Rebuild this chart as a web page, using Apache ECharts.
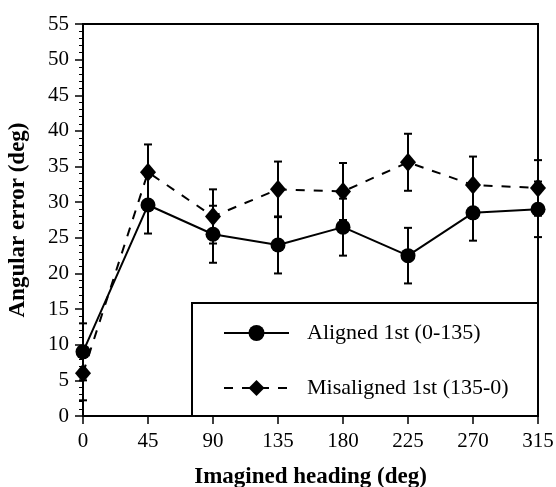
<!DOCTYPE html>
<html>
<head>
<meta charset="utf-8">
<script src="https://cdn.jsdelivr.net/npm/echarts@6/dist/echarts.min.js"></script>
<style>
  html, body { margin: 0; padding: 0; background: #fff; }
  #main { width: 556px; height: 487px; }
</style>
</head>
<body>
<div id="main"></div>
<script>
// imagined heading (deg)
const headings = [0, 45, 90, 135, 180, 225, 270, 315];

// aligned 1st (0-135): mean angular error and error bar half-width
const alignedMean = [9.0, 29.6, 25.5, 24.0, 26.5, 22.5, 28.5, 29.0];
const alignedErr  = [4.0, 4.0, 4.0, 4.0, 4.0, 3.9, 3.9, 3.9];

// misaligned 1st (135-0)
const misalignedMean = [6.0, 34.2, 28.0, 31.8, 31.5, 35.6, 32.4, 32.0];
const misalignedErr  = [3.8, 3.9, 3.8, 3.9, 4.0, 4.0, 4.0, 3.9];

const yTicks = { min: 0, max: 55, interval: 5 };

const serif = 'Liberation Serif';

const pairs = (ys) => headings.map((h, i) => [h, ys[i]]);
const bars = (m, e) => headings.map((h, i) => [h, m[i] - e[i], m[i] + e[i]]);

// error bar with caps
function errorBar(params, api) {
    const lo = api.coord([api.value(0), api.value(1)]);
    const hi = api.coord([api.value(0), api.value(2)]);
    const w = 4;
    const style = { stroke: '#000', lineWidth: 2 };
    return {
        type: 'group',
        children: [
            { type: 'line', shape: { x1: lo[0], y1: lo[1], x2: hi[0], y2: hi[1] }, style: style },
            { type: 'line', shape: { x1: lo[0] - w, y1: lo[1], x2: lo[0] + w, y2: lo[1] }, style: style },
            { type: 'line', shape: { x1: hi[0] - w, y1: hi[1], x2: hi[0] + w, y2: hi[1] }, style: style }
        ]
    };
}

const chart = echarts.init(document.getElementById('main'));
chart.setOption({
    animation: false,
    backgroundColor: '#fff',
    grid: {
        left: 83, right: 18, top: 24, bottom: 71,
        outerBoundsMode: 'none',
        containLabel: false,
        show: true, borderColor: '#000', borderWidth: 2
    },
    xAxis: {
        type: 'value',
        min: 0, max: 315, interval: 45,
        name: 'Imagined heading (deg)',
        nameLocation: 'middle',
        nameGap: 50,
        nameTextStyle: { fontFamily: serif, fontWeight: 'bold', fontSize: 23, color: '#000' },
        axisLine: { show: true, lineStyle: { color: '#000', width: 2 } },
        axisTick: { show: true, length: 8, lineStyle: { color: '#000', width: 1.5 } },
        axisLabel: { fontFamily: serif, fontSize: 21, color: '#000', margin: 15 },
        splitLine: { show: false }
    },
    yAxis: {
        type: 'value',
        min: yTicks.min, max: yTicks.max, interval: yTicks.interval,
        name: 'Angular error (deg)',
        nameLocation: 'middle',
        nameGap: 53,
        nameTextStyle: { fontFamily: serif, fontWeight: 'bold', fontSize: 23, color: '#000' },
        axisLine: { show: true, lineStyle: { color: '#000', width: 2 } },
        axisTick: { show: true, length: 8, lineStyle: { color: '#000', width: 1.5 } },
        minorTick: { show: true, splitNumber: 5, length: 4, lineStyle: { color: '#000', width: 1 } },
        axisLabel: { fontFamily: serif, fontSize: 21, color: '#000', margin: 14 },
        splitLine: { show: false }
    },
    legend: {
        orient: 'vertical',
        left: 218, top: 317,
        itemWidth: 65, itemHeight: 20,
        itemGap: 33,
        textStyle: { fontFamily: serif, fontSize: 22, color: '#000', padding: [0, 0, 0, 13] },
        data: ['Aligned 1st (0-135)', 'Misaligned 1st (135-0)']
    },
    graphic: [{
        type: 'rect',
        shape: { x: 192, y: 303, width: 346, height: 113 },
        style: { fill: '#fff', stroke: '#000', lineWidth: 2 },
        z: 0
    }],
    series: [
        {
            name: 'Aligned 1st (0-135)',
            type: 'line',
            data: pairs(alignedMean),
            symbol: 'circle', symbolSize: 15,
            itemStyle: { color: '#000' },
            lineStyle: { color: '#000', width: 2 },
            z: 3
        },
        {
            name: 'Misaligned 1st (135-0)',
            type: 'line',
            data: pairs(misalignedMean),
            symbol: 'diamond', symbolSize: [16, 19],
            itemStyle: { color: '#000' },
            lineStyle: { color: '#000', width: 2, type: [9, 9] },
            z: 3
        },
        {
            type: 'custom',
            renderItem: errorBar,
            data: bars(alignedMean, alignedErr),
            encode: { x: 0, y: [1, 2] },
            z: 2
        },
        {
            type: 'custom',
            renderItem: errorBar,
            data: bars(misalignedMean, misalignedErr),
            encode: { x: 0, y: [1, 2] },
            z: 2
        }
    ]
});
</script>
</body>
</html>
